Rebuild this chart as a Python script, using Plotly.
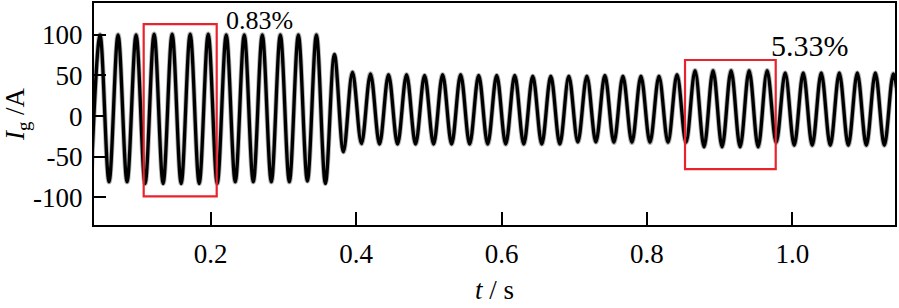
import plotly.graph_objects as go

# ---- data ----
# waveform extrema: trough_0, peak_0, trough_1, peak_1, ..., peak_44, trough_45
t_first_trough = 0.0356      # s, time of first trough (just left of axis start)
half_period = 0.012395       # s, spacing between successive extrema

peaks = [100, 100, 100, 101, 101, 101, 101, 100, 100, 100, 100, 100,
         100, 76, 54,
         52, 51, 51, 50, 51, 51, 50, 50, 50, 49, 49, 49, 49, 50, 49, 49, 49, 51,
         56, 56, 56, 56, 56,
         53, 53, 53, 53, 53, 53, 52]

troughs = [-81, -81, -81, -83, -83, -83, -83, -83, -81, -81, -81, -81,
           -80, -83, -44, -34,
           -34.5, -34.5, -34.5, -34.5, -34.5, -34.5, -34.5, -34.5, -34.5, -34.5, -34.5,
           -32, -32,
           -32.5, -32.5, -32.5, -32.5, -32.5,
           -38, -38, -38, -38,
           -32.5,
           -36, -36, -36, -36, -36, -36, -36]

x_ticks = [0.2, 0.4, 0.6, 0.8, 1.0]
x_tick_text = ["0.2", "0.4", "0.6", "0.8", "1.0"]
y_ticks = [-100, -50, 0, 50, 100]
y_tick_text = ["-100", "-50", "0", "50", "100"]

thd_labels = ["0.83%", "5.33%"]
# analysis windows (s) and their vertical extents (A)
win1 = dict(t0=0.108, t1=0.2084, y0=-98.8, y1=113.3)
win2 = dict(t0=0.8523, t1=0.9770, y0=-65.2, y1=69.0)

# ---- build series ----
values = []
for i in range(len(peaks)):
    values.append(troughs[i])
    values.append(peaks[i])
values.append(troughs[len(peaks)])
times = [t_first_trough + i * half_period for i in range(len(values))]

FONT = "Times New Roman, Liberation Serif, serif"

fig = go.Figure()
fig.add_trace(go.Scatter(x=times, y=values, mode="lines",
                         line=dict(color="rgba(0,0,0,0.3)", width=5.0, shape="spline", smoothing=1),
                         hoverinfo="skip", showlegend=False))
fig.add_trace(go.Scatter(x=times, y=values, mode="lines",
                         line=dict(color="black", width=3.3, shape="spline", smoothing=1),
                         showlegend=False))

red = "#e8232b"
for w in (win1, win2):
    fig.add_shape(type="rect", xref="x", yref="y", x0=w["t0"], x1=w["t1"], y0=w["y0"], y1=w["y1"],
                  line=dict(color=red, width=2.2), fillcolor="rgba(0,0,0,0)")

fig.add_annotation(x=0.267, y=118, xref="x", yref="y", text=thd_labels[0], showarrow=False,
                   font=dict(family=FONT, size=26, color="black"), xanchor="center", yanchor="middle")
fig.add_annotation(x=1.024, y=87, xref="x", yref="y", text=thd_labels[1], showarrow=False,
                   font=dict(family=FONT, size=30, color="black"), xanchor="center", yanchor="middle")

axis_common = dict(showline=True, linewidth=2, linecolor="black", mirror=True,
                   ticks="inside", tickwidth=2, tickcolor="black",
                   showgrid=False, zeroline=False, automargin=False,
                   tickfont=dict(family=FONT, size=27, color="black"))

fig.update_xaxes(range=[0.0397, 1.141], tickvals=x_ticks, ticktext=x_tick_text, ticklen=13,
                 ticklabelstandoff=4,
                 title=dict(text="<i>t</i> / s", font=dict(family=FONT, size=27, color="black"), standoff=12),
                 **axis_common)
fig.update_yaxes(range=[-134.1, 139.2], tickvals=y_ticks, ticktext=y_tick_text, ticklen=12,
                 ticklabelstandoff=4,
                 title=dict(text="<i>I</i><sub>g</sub> /A", font=dict(family=FONT, size=27, color="black"), standoff=9),
                 **axis_common)

fig.update_layout(width=899, height=308, margin=dict(l=94, r=4, t=3, b=83, autoexpand=False),
                  plot_bgcolor="white", paper_bgcolor="white", showlegend=False,
                  font=dict(family=FONT, color="black"))

fig.write_html("out.html", config={"displayModeBar": False},
               post_script="document.body.style.margin='0';document.body.style.overflow='hidden';")
